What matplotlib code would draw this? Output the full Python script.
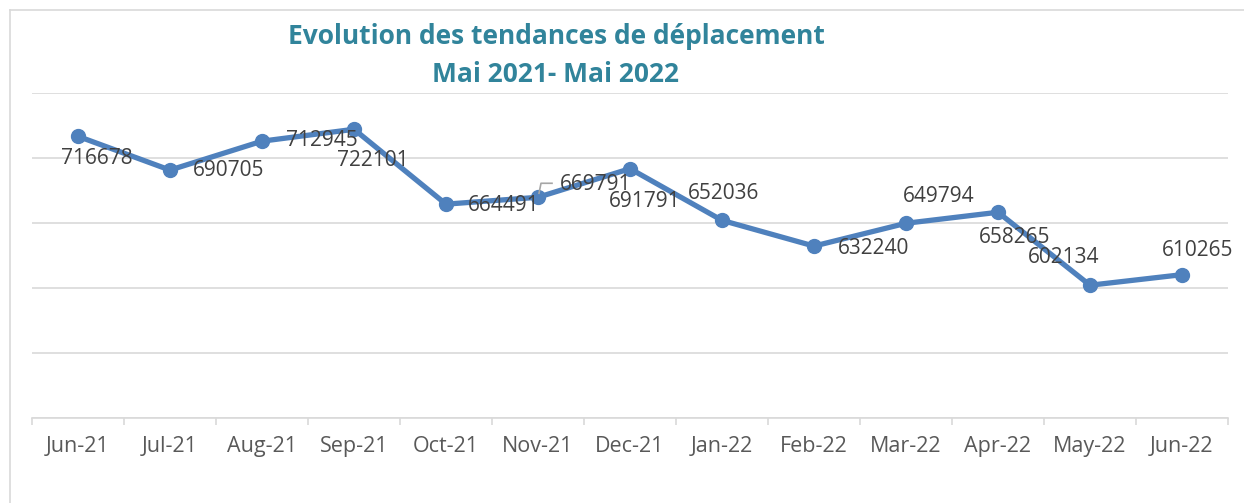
import matplotlib
matplotlib.use("Agg")
import matplotlib.pyplot as plt
from matplotlib.lines import Line2D
import numpy as np

months = ["Jun-21", "Jul-21", "Aug-21", "Sep-21", "Oct-21", "Nov-21", "Dec-21",
          "Jan-22", "Feb-22", "Mar-22", "Apr-22", "May-22", "Jun-22"]
values = [716678, 690705, 712945, 722101, 664491, 669791, 691791,
          652036, 632240, 649794, 658265, 602134, 610265]
point_labels = ["716678", "690705", "712945", "722101", "664491", "669791", "691791",
                "652036", "632240", "649794", "658265", "602134", "610265"]
# label offsets in pixels (dx, dy) relative to each point
label_offsets = [(19, -22), (59, 0), (60, 1), (19, -31), (58, -1), (58, 13), (15, -33),
                 (2, 27), (60, -2), (33, 27), (17, -25), (-26, 28), (16, 24)]

W, H = 1244, 503
fig = plt.figure(figsize=(W / 100, H / 100), dpi=100)
fig.patch.set_facecolor("white")

# outer chart frame
fig.add_artist(Line2D([10 / W, 10 / W], [0, 1 - 10 / H], color="#D9D9D9", lw=1.2))
fig.add_artist(Line2D([10 / W, 1], [1 - 10 / H, 1 - 10 / H], color="#D9D9D9", lw=1.2))

ax = fig.add_axes([32 / W, 1 - 418 / H, (1228 - 32) / W, (418 - 93) / H])
x = np.arange(len(months))
ax.set_xlim(-0.5, len(months) - 0.5)
ax.set_ylim(500000, 750000)
ax.set_yticks(np.arange(500000, 750001, 50000))
ax.yaxis.grid(True, color="#D9D9D9", lw=1.2)
ax.set_axisbelow(True)
ax.tick_params(axis="y", left=False, labelleft=False)
for s in ["top", "right", "left"]:
    ax.spines[s].set_visible(False)
ax.spines["bottom"].set_color("#D9D9D9")
ax.spines["bottom"].set_linewidth(1.2)

ax.set_xticks(x)
ax.set_xticklabels(months, fontsize=15.5, color="#595959", family="Open Sans")
ax.tick_params(axis="x", which="major", length=0, pad=13)
ax.set_xticks(np.arange(-0.5, len(months), 1), minor=True)
ax.tick_params(axis="x", which="minor", length=5, color="#D9D9D9", width=1.2)

ax.plot(x, values, color="#4F81BD", lw=3.8, marker="o", markersize=10,
        solid_capstyle="round", zorder=3, clip_on=False)

for xi, v, lab, (dx, dy) in zip(x, values, point_labels, label_offsets):
    ax.annotate(lab, (xi, v), xytext=(dx, dy), textcoords="offset pixels",
                ha="center", va="center", fontsize=15, color="#404040",
                family="Open Sans", annotation_clip=False, zorder=4)

# leader line for Nov-21 label
nov = months.index("Nov-21")
trans = ax.transData
px, py = trans.transform((nov, values[nov]))
pts = [(px + 1, py + 4), (px + 3, py + 14), (px + 14, py + 14)]
inv = fig.transFigure.inverted()
fpts = inv.transform(pts)
fig.add_artist(Line2D(fpts[:, 0], fpts[:, 1], color="#A6A6A6", lw=1.2))

fig.text(556 / W, 1 - 36 / H, "Evolution des tendances de déplacement",
         ha="center", va="center", fontsize=19, fontweight="bold",
         color="#31849B", family="Open Sans")
fig.text(556 / W, 1 - 74 / H, "Mai 2021- Mai 2022",
         ha="center", va="center", fontsize=19, fontweight="bold",
         color="#31849B", family="Open Sans")

fig.savefig("out.png", dpi=100, facecolor="white")
